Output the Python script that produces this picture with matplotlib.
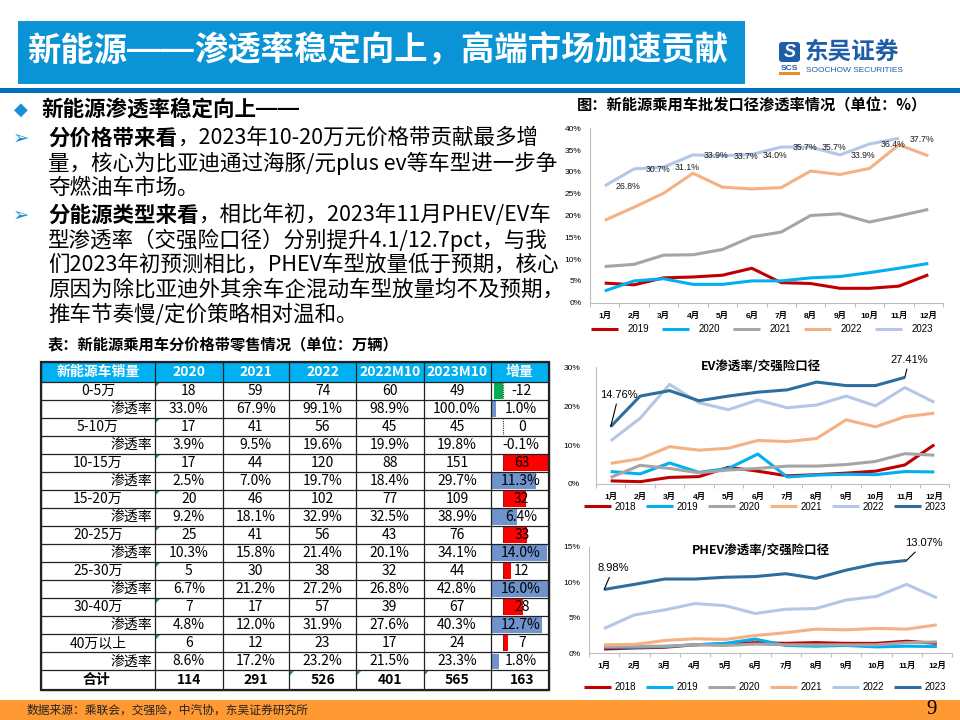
import numpy as np
import matplotlib
matplotlib.use('Agg')
import matplotlib.pyplot as plt
from matplotlib.patches import Rectangle, Polygon, FancyBboxPatch

plt.rcParams['font.family'] = ['Noto Sans CJK SC', 'DejaVu Sans']
LAT = ['Liberation Sans', 'Noto Sans CJK SC', 'DejaVu Sans']

# ---------------- data ----------------
months = ['1月', '2月', '3月', '4月', '5月', '6月', '7月', '8月', '9月', '10月', '11月', '12月']

# wholesale NEV penetration (%)
ws_years = ['2019', '2020', '2021', '2022', '2023']
ws_2019 = [4.5, 4.1, 5.7, 5.9, 6.3, 7.9, 4.6, 4.4, 3.3, 3.3, 3.8, 6.4]
ws_2020 = [2.7, 5.0, 5.5, 4.2, 4.2, 5.0, 5.0, 5.7, 6.0, 6.9, 7.9, 9.0]
ws_2021 = [8.3, 8.8, 10.9, 11.0, 12.2, 15.1, 16.2, 20.0, 20.4, 18.5, 19.9, 21.4]
ws_2022 = [18.9, 21.9, 25.1, 29.7, 26.5, 26.1, 26.4, 30.2, 29.4, 30.8, 36.2, 33.7]
ws_2023 = [26.8, 30.7, 31.1, 33.9, 33.7, 34.0, 35.7, 35.7, 33.9, 36.4, 37.7]

# EV penetration, insurance basis (%)
ins_years = ['2018', '2019', '2020', '2021', '2022', '2023']
ev_2018 = [0.8, 0.6, 1.7, 1.9, 4.3, 3.3, 2.1, 2.4, 2.8, 3.3, 4.9, 10.1]
ev_2019 = [3.2, 2.6, 5.4, 3.0, 4.0, 7.7, 1.8, 2.3, 2.5, 2.4, 3.2, 3.1]
ev_2020 = [1.7, 4.8, 4.0, 2.9, 3.6, 4.0, 4.6, 4.6, 5.0, 5.8, 7.8, 7.4]
ev_2021 = [5.3, 6.5, 9.6, 8.7, 9.2, 11.2, 10.9, 11.7, 16.5, 14.7, 17.3, 18.2]
ev_2022 = [11.1, 16.9, 25.6, 20.9, 19.1, 21.6, 19.6, 20.3, 22.6, 20.1, 24.8, 21.0]
ev_2023 = [14.76, 22.6, 24.0, 21.4, 22.6, 23.6, 24.2, 26.2, 25.3, 25.3, 27.41]

# PHEV penetration, insurance basis (%)
phev_2018 = [0.6, 0.75, 0.85, 1.2, 1.3, 1.5, 1.4, 1.5, 1.4, 1.4, 1.7, 1.4]
phev_2019 = [0.85, 0.85, 0.95, 1.2, 1.4, 2.0, 1.1, 1.0, 1.1, 0.9, 1.0, 0.95]
phev_2020 = [0.95, 1.0, 1.0, 1.2, 1.1, 1.3, 1.2, 1.2, 1.2, 1.2, 1.5, 1.6]
phev_2021 = [1.2, 1.25, 1.8, 2.05, 1.95, 2.5, 2.9, 3.4, 3.3, 3.5, 3.4, 4.0]
phev_2022 = [3.5, 5.4, 6.1, 7.0, 6.7, 5.6, 6.2, 6.3, 7.5, 8.0, 9.7, 7.8]
phev_2023 = [8.98, 9.7, 10.45, 10.45, 10.7, 10.8, 11.2, 10.55, 11.7, 12.6, 13.07]

# table
tbl_header = ['新能源车销量', '2020', '2021', '2022', '2022M10', '2023M10', '增量']
bands = ['0-5万', '5-10万', '10-15万', '15-20万', '20-25万', '25-30万', '30-40万', '40万以上']
vol = [[18, 59, 74, 60, 49], [17, 41, 56, 45, 45], [17, 44, 120, 88, 151], [20, 46, 102, 77, 109],
       [25, 41, 56, 43, 76], [5, 30, 38, 32, 44], [7, 17, 57, 39, 67], [6, 12, 23, 17, 24]]
vol_inc = [-12, 0, 63, 32, 33, 12, 28, 7]
pen = [[33.0, 67.9, 99.1, 98.9, 100.0], [3.9, 9.5, 19.6, 19.9, 19.8], [2.5, 7.0, 19.7, 18.4, 29.7],
       [9.2, 18.1, 32.9, 32.5, 38.9], [10.3, 15.8, 21.4, 20.1, 34.1], [6.7, 21.2, 27.2, 26.8, 42.8],
       [4.8, 12.0, 31.9, 27.6, 40.3], [8.6, 17.2, 23.2, 21.5, 23.3]]
pen_inc = [1.0, -0.1, 11.3, 6.4, 14.0, 16.0, 12.7, 1.8]
totals = [114, 291, 526, 401, 565]
total_inc = 163

# ---------------- figure ----------------
W, H = 960, 720
fig = plt.figure(figsize=(9.6, 7.2), dpi=100)
fig.patch.set_facecolor('white')


def frect(l, t, r, b):
    return [l / W, 1 - b / H, (r - l) / W, (b - t) / H]


def line_chart(box, years, series, colors, ymax, ystep, ypad, leg_xy, leg_kw):
    ax = fig.add_axes(frect(*box))
    for yr, vals, c in zip(years, series, colors):
        ax.plot(range(len(vals)), vals, color=c, lw=2.2, label=yr,
                solid_joinstyle='round', solid_capstyle='butt')
    ax.set_xlim(-0.5, 11.5)
    ax.set_ylim(0, ymax)
    ticks = np.arange(0, ymax + 0.001, ystep)
    ax.set_yticks(ticks)
    ax.set_yticklabels([f'{t:.0f}%' for t in ticks], fontsize=6, family=LAT)
    ax.set_xticks(range(12))
    ax.set_xticklabels(months, fontsize=6, fontweight='bold', family=LAT)
    ax.set_xticks(np.arange(-0.5, 12, 1), minor=True)
    ax.tick_params(axis='x', which='major', length=0, pad=6.5)
    ax.tick_params(axis='x', which='minor', length=3, width=0.8, color='#BFBFBF')
    ax.tick_params(axis='y', length=0, pad=ypad)
    for s in ('top', 'right'):
        ax.spines[s].set_visible(False)
    for s in ('left', 'bottom'):
        ax.spines[s].set_color('#BFBFBF')
        ax.spines[s].set_linewidth(0.8)
    ax.patch.set_alpha(0)
    ax.legend(loc='center', bbox_to_anchor=(leg_xy[0] / W, 1 - leg_xy[1] / H),
              bbox_transform=fig.transFigure, ncol=len(years), frameon=False,
              prop={'family': LAT, 'size': 7}, borderpad=0, **leg_kw)
    return ax


# chart 1
c1 = ['#C00000', '#00B0F0', '#A5A5A5', '#F4B183', '#B4C7E7']
ax1 = line_chart((590, 128.3, 943, 302.7), ws_years,
                 [ws_2019, ws_2020, ws_2021, ws_2022, ws_2023], c1, 40, 5, 6,
                 (762, 329), dict(handlelength=2.8, handletextpad=1.0, columnspacing=1.3))
for i, v in enumerate(ws_2023):
    ax1.annotate(f'{v:.1f}%', (i, v), xytext=(8, -0.5), textcoords='offset points',
                 ha='left', va='center', fontsize=6.3, family=LAT, color='#1A1A1A')

# chart 2 EV
c2 = ['#C00000', '#00B0F0', '#A5A5A5', '#F4B183', '#B4C7E7', '#2E6E9E']
ax2 = line_chart((596, 367.3, 949, 484), ins_years,
                 [ev_2018, ev_2019, ev_2020, ev_2021, ev_2022, ev_2023], c2, 30, 10, 11.5,
                 (765, 506.7), dict(handlelength=2.8, handletextpad=0.35, columnspacing=1.0))
arrow = dict(arrowstyle='-', color='black', lw=0.8, shrinkA=1, shrinkB=0)
ax2.annotate(f'{ev_2023[0]:.2f}%', xy=(0, ev_2023[0]), xytext=(0.27, 22.9), ha='center', va='center',
             fontsize=8, family=LAT, arrowprops=arrow, annotation_clip=False)
ax2.annotate(f'{ev_2023[-1]:.2f}%', xy=(10, ev_2023[-1]), xytext=(10.14, 31.9), ha='center', va='center',
             fontsize=8, family=LAT, arrowprops=arrow, annotation_clip=False)

# chart 3 PHEV
ax3 = line_chart((589, 546.7, 952, 653.3), ins_years,
                 [phev_2018, phev_2019, phev_2020, phev_2021, phev_2022, phev_2023], c2, 15, 5, 6,
                 (765, 687), dict(handlelength=2.8, handletextpad=0.35, columnspacing=1.0))
ax3.annotate(f'{phev_2023[0]:.2f}%', xy=(0, phev_2023[0]), xytext=(0.3, 11.96), ha='center', va='center',
             fontsize=8, family=LAT, arrowprops=arrow, annotation_clip=False)
ax3.annotate(f'{phev_2023[-1]:.2f}%', xy=(10, phev_2023[-1]), xytext=(10.58, 15.48), ha='center', va='center',
             fontsize=8, family=LAT, arrowprops=arrow, annotation_clip=False)

# ---------------- table geometry ----------------
col_x = [41, 155, 222.5, 289, 356, 423.5, 490.6, 549]
y_top = 362
head_h = 19.7
row_h = 18.04
row_y = [y_top, y_top + head_h] + [y_top + head_h + row_h * (k + 1) for k in range(16)]
row_y.append(row_y[-1] + 19.7)

# data bars in 增量 column
vlo, vhi = min(vol_inc) - 4, max(vol_inc)
plo = min(pen_inc)
phi = plo + 0.9 * (max(pen_inc) - plo)
for i in range(len(bands)):
    t = row_y[1 + 2 * i]
    bax = fig.add_axes(frect(col_x[6] + 0.6, t + 1.2, col_x[7] - 0.6, t + row_h - 1.0))
    bax.barh(0, vol_inc[i], height=1.0, color='#FF0000' if vol_inc[i] >= 0 else '#00B050')
    bax.axvline(0, color='#333333', lw=0.8, ls=(0, (1.0, 1.0)))
    bax.set_xlim(vlo, vhi)
    bax.set_ylim(-0.5, 0.5)
    bax.axis('off')
    t = row_y[2 + 2 * i]
    pax = fig.add_axes(frect(col_x[6] + 0.6, t + 1.2, col_x[7] - 0.6, t + row_h - 1.0))
    pax.barh(0, pen_inc[i] - plo, left=plo, height=1.0, color='#6F93CC')
    pax.set_xlim(plo, phi)
    pax.set_ylim(-0.5, 0.5)
    pax.axis('off')

# ---------------- overlay (text, table grid, decoration) ----------------
ov = fig.add_axes([0, 0, 1, 1])
ov.set_xlim(0, W)
ov.set_ylim(H, 0)
ov.axis('off')

DASHF = ['Liberation Sans', 'DejaVu Sans']
SYMF = ['DejaVu Sans']


def chain(x, y, parts, size, color='black'):
    """parts: (text, weight, family or None)"""
    prev = None
    for txt, w, fam in parts:
        kw = dict(fontsize=size, fontweight=w, va='center', ha='left', color=color)
        if fam is not None:
            kw['family'] = fam
        if prev is None:
            prev = ov.text(x, y, txt, **kw)
        else:
            prev = ov.annotate(txt, xy=(1, 0.5), xycoords=prev, **kw)
    return prev


# header
ov.add_patch(Rectangle((18, 21), 727, 63, color='#0A93D5', lw=0))
chain(27, 51, [('新能源', 'bold', None), ('——', 'bold', DASHF),
               ('渗透率稳定向上，高端市场加速贡献', 'bold', None)], 24, color='white')
ov.add_patch(Rectangle((0, 88), W, 4.5, color='#0070C0', lw=0))
# logo
ov.add_patch(FancyBboxPatch((779, 42), 21, 20, boxstyle='round,pad=0,rounding_size=3',
                            color='#1F5DA8', lw=0))
ov.text(789.5, 52.5, 'S', color='white', fontsize=13, fontweight='bold', style='italic',
        ha='center', va='center', family=LAT)
ov.text(789.5, 68, 'SCS', color='#1F5DA8', fontsize=6, fontweight='bold', ha='center', va='center',
        family=LAT)
ov.add_patch(Rectangle((779, 72), 21, 2.5, color='#F08A24', lw=0))
ov.text(805, 52, '东吴证券', color='#1F5DA8', fontsize=17, fontweight='bold', ha='left', va='center')
ov.text(806, 71, 'SOOCHOW SECURITIES', color='#1F5DA8', fontsize=6, ha='left', va='center',
        family=LAT)

# bullets / body text
BODY = 15.5
BLUE = '#1A8FD6'
ov.text(21, 110, '◆', color=BLUE, fontsize=13, ha='center', va='center', family=SYMF)
chain(41, 110, [('新能源渗透率稳定向上', 'bold', None), ('——', 'bold', DASHF)], BODY)

ov.text(21, 138, '➢', color=BLUE, fontsize=14, ha='center', va='center', family=SYMF)
chain(48, 138, [('分价格带来看', 'bold', None), ('，2023年10-20万元价格带贡献最多增', 'normal', None)], BODY)
ov.text(48, 163, '量，核心为比亚迪通过海豚/元plus ev等车型进一步争', fontsize=BODY, va='center', ha='left')
ov.text(48, 188, '夺燃油车市场。', fontsize=BODY, va='center', ha='left')
ov.text(21, 215, '➢', color=BLUE, fontsize=14, ha='center', va='center', family=SYMF)
chain(48, 215, [('分能源类型来看', 'bold', None), ('，相比年初，2023年11月PHEV/EV车', 'normal', None)], BODY)
body_lines = ['型渗透率（交强险口径）分别提升4.1/12.7pct，与我',
              '们2023年初预测相比，PHEV车型放量低于预期，核心',
              '原因为除比亚迪外其余车企混动车型放量均不及预期，',
              '推车节奏慢/定价策略相对温和。']
for k, ln in enumerate(body_lines):
    ov.text(48, 240 + 25 * k, ln, fontsize=BODY, va='center', ha='left')

ov.text(48, 345, '表：新能源乘用车分价格带零售情况（单位：万辆）', fontsize=11, fontweight='bold',
        va='center', ha='left')
ov.text(751.5, 105, '图：新能源乘用车批发口径渗透率情况（单位：%）', fontsize=11, fontweight='bold',
        va='center', ha='center')
ov.text(761, 367, 'EV渗透率/交强险口径', fontsize=9, fontweight='bold', va='center', ha='center')
ov.text(761, 550, 'PHEV渗透率/交强险口径', fontsize=9, fontweight='bold', va='center', ha='center')

# table header
ov.add_patch(Rectangle((col_x[0], row_y[0]), col_x[-1] - col_x[0], head_h, color='#00B0F0', lw=0))
for j, h in enumerate(tbl_header):
    ov.text((col_x[j] + col_x[j + 1]) / 2, row_y[0] + head_h / 2, h, color='white', fontsize=10,
            fontweight='bold', ha='center', va='center')

TS = 10
for i, b in enumerate(bands):
    yc = (row_y[1 + 2 * i] + row_y[2 + 2 * i]) / 2
    ov.text(98, yc, b, fontsize=TS, ha='center', va='center')
    for j in range(5):
        ov.text((col_x[j + 1] + col_x[j + 2]) / 2, yc, f'{vol[i][j]}', fontsize=TS, ha='center', va='center')
    ov.text((col_x[6] + col_x[7]) / 2 + 2, yc, f'{vol_inc[i]}', fontsize=TS, ha='center', va='center')
    # small green indicator
    x0, y0 = col_x[1], row_y[1 + 2 * i]
    ov.add_patch(Polygon([(x0 + 0.8, y0 + 0.8), (x0 + 5, y0 + 0.8), (x0 + 0.8, y0 + 5)],
                         closed=True, color='#1E9E3E', lw=0))
    yc = (row_y[2 + 2 * i] + row_y[3 + 2 * i]) / 2
    ov.text(152, yc, '渗透率', fontsize=TS, ha='right', va='center')
    for j in range(5):
        ov.text((col_x[j + 1] + col_x[j + 2]) / 2, yc, f'{pen[i][j]:.1f}%', fontsize=TS, ha='center',
                va='center')
    ov.text((col_x[6] + col_x[7]) / 2 + 1, yc, f'{pen_inc[i]:.1f}%', fontsize=TS, ha='center', va='center')

yc = (row_y[-2] + row_y[-1]) / 2
ov.text(97, yc, '合计', fontsize=TS, fontweight='bold', ha='center', va='center')
for j in range(5):
    ov.text((col_x[j + 1] + col_x[j + 2]) / 2, yc, f'{totals[j]}', fontsize=TS, fontweight='bold',
            ha='center', va='center')
ov.text((col_x[6] + col_x[7]) / 2 + 2, yc, f'{total_inc}', fontsize=TS, fontweight='bold',
        ha='center', va='center')
for j in (3, 4, 5):
    x0, y0 = col_x[j], row_y[-2]
    ov.add_patch(Polygon([(x0 + 0.8, y0 + 0.8), (x0 + 5, y0 + 0.8), (x0 + 0.8, y0 + 5)],
                         closed=True, color='#1E9E3E', lw=0))

# grid
for y in row_y:
    ov.plot([col_x[0], col_x[-1]], [y, y], color='#222222', lw=0.9, solid_capstyle='butt')
for x in col_x:
    ov.plot([x, x], [row_y[0], row_y[-1]], color='#222222', lw=0.9, solid_capstyle='butt')
ov.add_patch(Rectangle((col_x[0], row_y[0]), col_x[-1] - col_x[0], row_y[-1] - row_y[0],
                       fill=False, ec='#222222', lw=1.6))

# footer
ov.add_patch(Rectangle((0, 700), W, 20, color='#FF9933', lw=0))
ov.text(27, 710, '数据来源：乘联会，交强险，中汽协，东吴证券研究所', fontsize=8.5, color='#222222',
        ha='left', va='center')
ov.text(932, 710, '9', fontsize=15, family=['Liberation Serif', 'DejaVu Serif'], ha='center', va='center')

fig.savefig('out.png', dpi=100, facecolor='white')
